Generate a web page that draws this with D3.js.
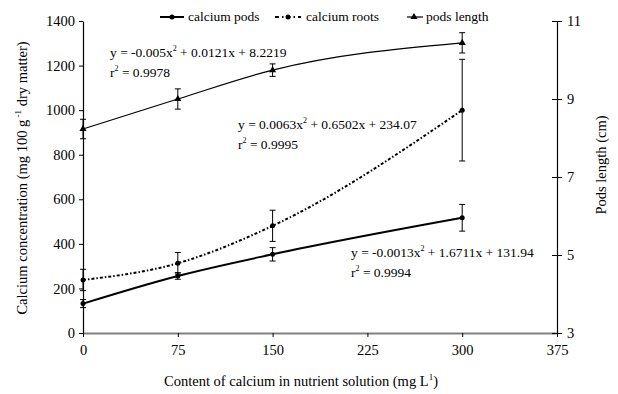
<!DOCTYPE html>
<html><head><meta charset="utf-8">
<script src="https://cdn.jsdelivr.net/npm/d3@7"></script>
<style>body{margin:0;background:#fff}svg{display:block}text{font-family:"Liberation Serif","Times New Roman",serif;fill:#000}</style>
</head><body>
<svg id="c" width="618" height="394"></svg>
<script>
const xTicks = [0, 75, 150, 225, 300, 375];
const yTicks = [0, 200, 400, 600, 800, 1000, 1200, 1400];
const y2Ticks = [3, 5, 7, 9, 11];
const doses = [0, 75, 150, 300];
const caPods = [132, 256, 353, 517];
const caPodsErr = [18, 15, 30, 60];
const caRoots = [238, 313, 481, 1000];
const caRootsErr = [48, 48, 70, 228];
const podsLen = [8.23, 9.0, 9.74, 10.44];
const podsLenErr = [0.25, 0.26, 0.16, 0.26];

const svg = d3.select("#c");
const L = 83, R = 557, T = 21, B = 333;
const FF = "Liberation Serif";
const x = d3.scaleLinear().domain([0, 375]).range([L, R]);
const y = d3.scaleLinear().domain([0, 1400]).range([B, T]);
const y2 = d3.scaleLinear().domain([3, 11]).range([B, T]);

// axes
const gx = svg.append("g").attr("transform", `translate(0,${B})`)
  .call(d3.axisBottom(x).tickValues(xTicks).tickFormat(d3.format("d")).tickSize(4).tickPadding(8).tickSizeOuter(0));
gx.select(".domain").attr("stroke", "#808080").attr("stroke-width", 2);
gx.selectAll(".tick line").attr("stroke", "#000");
gx.selectAll("text").attr("font-size", 14.5).attr("font-family", FF);

const gy = svg.append("g").attr("transform", `translate(${L},0)`)
  .call(d3.axisLeft(y).tickValues(yTicks).tickFormat(d3.format("d")).tickSize(4).tickPadding(4).tickSizeOuter(0));
gy.select(".domain").attr("stroke", "#000").attr("stroke-width", 1.2);
gy.selectAll("text").attr("font-size", 14.5).attr("font-family", FF);

const gy2 = svg.append("g").attr("transform", `translate(${R},0)`)
  .call(d3.axisRight(y2).tickValues(y2Ticks).tickFormat(d3.format("d")).tickSize(5).tickPadding(5).tickSizeOuter(0));
gy2.select(".domain").attr("stroke", "#000").attr("stroke-width", 1.2);
gy2.selectAll(".tick line").attr("x1", -5);
gy2.selectAll("text").attr("font-size", 14.5).attr("font-family", FF);

// axis titles
svg.append("text").attr("x", 301).attr("y", 386).attr("text-anchor", "middle").attr("font-size", 14.5)
  .html('Content of calcium in nutrient solution (mg L<tspan dy="-6" font-size="9">1</tspan><tspan dy="6">)</tspan>');
svg.append("text").attr("transform", "translate(27,178) rotate(-90)").attr("text-anchor", "middle").attr("font-size", 14.5)
  .html('Calcium concentration (mg 100 g<tspan dy="-6" font-size="9"> -1</tspan><tspan dy="6"> dry matter)</tspan>');
svg.append("text").attr("transform", "translate(606,165) rotate(-90)").attr("text-anchor", "middle").attr("font-size", 14.5)
  .text("Pods length (cm)");

// series
const line = d3.line().curve(d3.curveMonotoneX);
function series(vals, errs, ys, style, marker) {
  const pts = doses.map((d, i) => [x(d), ys(vals[i])]);
  svg.append("path").attr("d", line(pts)).attr("fill", "none").attr("stroke", "#000")
    .attr("stroke-width", style.w).attr("stroke-dasharray", style.dash || null);
  doses.forEach((d, i) => {
    const cx = x(d), y1 = ys(vals[i] + errs[i]), y0 = ys(vals[i] - errs[i]);
    const g = svg.append("g").attr("stroke", "#000").attr("stroke-width", 1);
    g.append("line").attr("x1", cx).attr("x2", cx).attr("y1", y1).attr("y2", y0);
    g.append("line").attr("x1", cx - 3).attr("x2", cx + 3).attr("y1", y1).attr("y2", y1);
    g.append("line").attr("x1", cx - 3).attr("x2", cx + 3).attr("y1", y0).attr("y2", y0);
    drawMarker(cx, ys(vals[i]), marker);
  });
}
function drawMarker(cx, cy, m) {
  if (m === "circle") svg.append("circle").attr("cx", cx).attr("cy", cy).attr("r", 2.5).attr("fill", "#000");
  else svg.append("path").attr("d", d3.symbol(d3.symbolTriangle, 22)()).attr("transform", `translate(${cx},${cy})`).attr("fill", "#000");
}
series(podsLen, podsLenErr, y2, {w: 1.2}, "tri");
series(caRoots, caRootsErr, y, {w: 2, dash: "3,2,1.5,2"}, "circle");
series(caPods, caPodsErr, y, {w: 2}, "circle");

// legend
const lg = svg.append("g");
lg.append("line").attr("x1", 160).attr("x2", 184).attr("y1", 17).attr("y2", 17).attr("stroke", "#000").attr("stroke-width", 2);
drawMarker(172, 17, "circle");
lg.append("text").attr("x", 188).attr("y", 21).attr("font-size", 13.5).text("calcium pods");
lg.append("line").attr("x1", 275).attr("x2", 301).attr("y1", 17).attr("y2", 17).attr("stroke", "#000").attr("stroke-width", 2).attr("stroke-dasharray", "4,3,1.5,3");
drawMarker(288, 17, "circle");
lg.append("text").attr("x", 306).attr("y", 21).attr("font-size", 13.5).text("calcium roots");
lg.append("line").attr("x1", 407).attr("x2", 423).attr("y1", 17).attr("y2", 17).attr("stroke", "#000").attr("stroke-width", 1.2);
drawMarker(414, 17, "tri");
lg.append("text").attr("x", 426).attr("y", 21).attr("font-size", 13.5).text("pods length");

// equations
function eq(xp, yp, a, b, r) {
  svg.append("text").attr("x", xp).attr("y", yp).attr("font-size", 13.5)
    .html(`y = ${a}x<tspan dy="-6" font-size="8">2</tspan><tspan dy="6"> + ${b}</tspan>`);
  svg.append("text").attr("x", xp).attr("y", yp + 20).attr("font-size", 13.5)
    .html(`r<tspan dy="-6" font-size="8">2</tspan><tspan dy="6"> = ${r}</tspan>`);
}
eq(110, 57, "-0.005", "0.0121x + 8.2219", "0.9978");
eq(238, 129, "0.0063", "0.6502x + 234.07", "0.9995");
eq(351, 257, "-0.0013", "1.6711x + 131.94", "0.9994");
</script>
</body></html>
